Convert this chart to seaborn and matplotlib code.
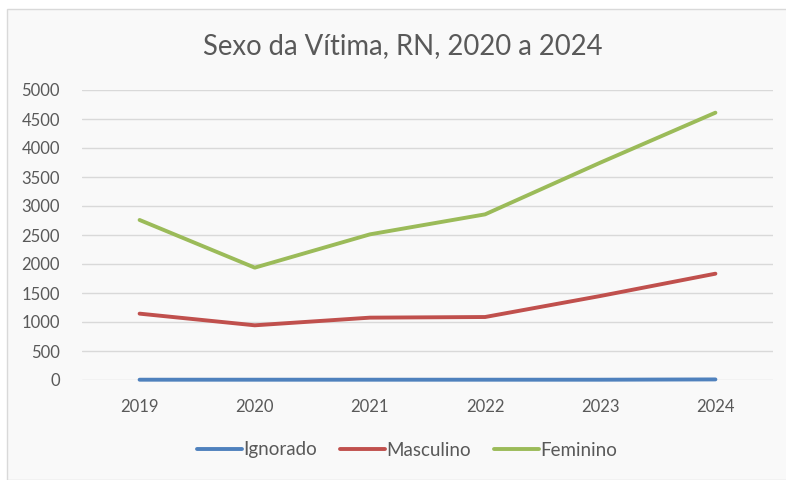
import matplotlib
matplotlib.use("Agg")
import matplotlib.pyplot as plt
import seaborn as sns
import pandas as pd
from matplotlib.patches import Rectangle
from matplotlib.lines import Line2D

years = [2019, 2020, 2021, 2022, 2023, 2024]
ignorado = [5, 5, 5, 5, 5, 10]
masculino = [1144, 943, 1075, 1086, 1448, 1833]
feminino = [2759, 1937, 2511, 2856, 3747, 4609]
series_names = ["Ignorado", "Masculino", "Feminino"]
colors = ["#4F81BD", "#C0504D", "#9BBB59"]
y_ticks = [0, 500, 1000, 1500, 2000, 2500, 3000, 3500, 4000, 4500, 5000]
title = "Sexo da Vítima, RN, 2020 a 2024"

df = pd.DataFrame({
    "Ano": years * 3,
    "Valor": ignorado + masculino + feminino,
    "Serie": [series_names[0]] * 6 + [series_names[1]] * 6 + [series_names[2]] * 6,
})

sns.set_theme(style="white")
plt.rcParams["font.family"] = ["Lato", "DejaVu Sans"]
text_color = "#595959"

W, H = 786, 480
fig = plt.figure(figsize=(W / 100, H / 100), dpi=100, facecolor="white")
bg = Rectangle((7 / W, 0), 1, 1 - 9 / H, transform=fig.transFigure,
               facecolor="#F9F9F9", edgecolor="#D9D9D9", linewidth=1, zorder=-10)
fig.patches.append(bg)

ax = fig.add_axes([82 / W, 100 / H, (773 - 82) / W, (380 - 90) / H])
ax.set_zorder(5)
ax.set_facecolor("none")

sns.lineplot(data=df, x="Ano", y="Valor", hue="Serie", hue_order=series_names,
             palette=colors, linewidth=2.8, ax=ax, legend=False, zorder=3)
for ln in ax.lines:
    ln.set_clip_on(False)
    ln.set_solid_capstyle("round")

ax.set_xlim(2018.5, 2024.5)
ax.set_ylim(0, 5000)
ax.set_yticks(y_ticks)
ax.set_yticklabels([str(v) for v in y_ticks])
ax.set_xticks(years)
ax.set_xticklabels([str(y) for y in years])
ax.grid(axis="y", color="#D9D9D9", linewidth=1)
ax.grid(axis="x", visible=False)
ax.set_axisbelow(True)
for s in ax.spines.values():
    s.set_visible(False)
ax.tick_params(axis="both", length=0, labelsize=12, colors=text_color)
ax.tick_params(axis="y", pad=16)
ax.tick_params(axis="x", pad=14)
ax.set_xlabel("")
ax.set_ylabel("")

fig.text(403 / W, 1 - 46 / H, title, ha="center", va="center", fontsize=19.8, color=text_color)

handles = [Line2D([0], [0], color=c, linewidth=2.8) for c in colors]
fig.legend(handles, series_names, loc="center", bbox_to_anchor=(407 / W, 1 - 450 / H),
           ncol=3, frameon=False, fontsize=13.5, labelcolor=text_color,
           handlelength=2.4, handletextpad=0.1, columnspacing=1.2)

fig.savefig("out.png", dpi=100, facecolor="white")
